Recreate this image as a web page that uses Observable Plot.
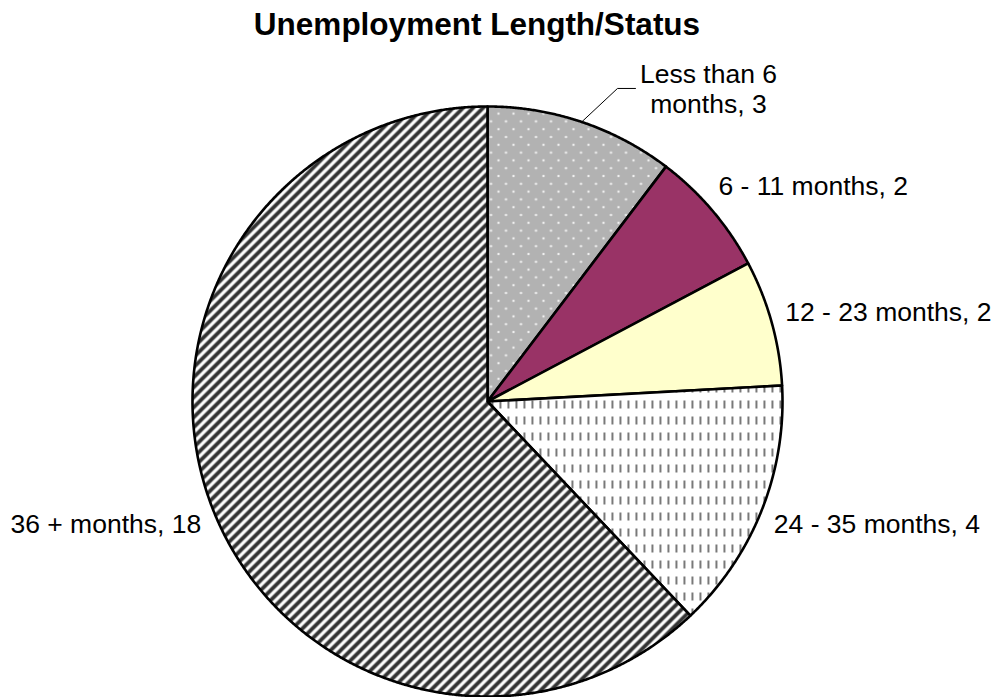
<!DOCTYPE html>
<html><head><meta charset="utf-8">
<script src="https://cdn.jsdelivr.net/npm/d3@7"></script>
<script src="https://cdn.jsdelivr.net/npm/@observablehq/plot@0.6"></script>
<style>body{margin:0;background:#fff;}</style>
</head><body><div id="chart"></div>
<script>
// ---- data ----
const chartTitle = "Unemployment Length/Status";
const categories = ["Less than 6 months", "6 - 11 months", "12 - 23 months", "24 - 35 months", "36 + months"];
const counts = [3, 2, 2, 4, 18];

// ---- styles / layout ----
const fills = ["url(#pDots)", "#993366", "#ffffcc", "url(#pDash)", "url(#pDiag)"];
const W = 997, H = 697, R = 295, CX = 487, CY = 401;
const labelRadius = 1.125;
const callout = {angleDeg: 22.55, radius: 1.149, tailPx: 18, textPx: 91};
const font = "'Liberation Sans', Arial, Helvetica, sans-serif";

// ---- geometry from data ----
const pie = d3.pie().sort(null).value(d => d)(counts);
const step = Math.PI / 720;
const slicePts = pie.map((s, i) => {
  const pts = [{x: 0, y: 0}];
  const n = Math.max(2, Math.ceil((s.endAngle - s.startAngle) / step));
  for (let k = 0; k <= n; k++) {
    const a = s.startAngle + (s.endAngle - s.startAngle) * k / n;
    pts.push({x: Math.sin(a), y: Math.cos(a)});
  }
  pts.push({x: 0, y: 0});
  return pts;
});
const labels = pie.map((s, i) => {
  const a = (s.startAngle + s.endAngle) / 2;
  return {i, a, text: `${categories[i]}, ${counts[i]}`,
          x: labelRadius * Math.sin(a), y: labelRadius * Math.cos(a)};
});
const first = labels[0];
const ca = callout.angleDeg * Math.PI / 180;
const elbow = {x: callout.radius * Math.sin(ca), y: callout.radius * Math.cos(ca)};
const leader = [
  {x: Math.sin(first.a), y: Math.cos(first.a)},
  elbow,
  {x: elbow.x + callout.tailPx / R, y: elbow.y}
];
const calloutText = [{x: elbow.x + callout.textPx / R, y: elbow.y, text: first.text}];
const rest = labels.slice(1);

const chart = Plot.plot({
  width: W, height: H, margin: 0,
  style: {fontFamily: font, background: "#fff", overflow: "visible"},
  x: {domain: [-CX / R, (W - CX) / R], axis: null},
  y: {domain: [-(H - CY) / R, CY / R], axis: null},
  marks: [
    ...slicePts.map((pts, i) => Plot.line(pts, {x: "x", y: "y", fill: fills[i], stroke: "#000", strokeWidth: 2.6, strokeLinejoin: "round"})),
    Plot.line(leader, {x: "x", y: "y", stroke: "#000", strokeWidth: 1}),
    Plot.text(calloutText, {x: "x", y: "y", text: "text", textAnchor: "middle", lineWidth: 6, lineHeight: 1.13, fontSize: 26.5, fill: "#000"}),
    Plot.text(rest.filter(d => d.x >= 0), {x: "x", y: "y", text: "text", textAnchor: "start", dx: -22, fontSize: 26.5, fill: "#000"}),
    Plot.text(rest.filter(d => d.x < 0), {x: "x", y: "y", text: "text", textAnchor: "end", dx: 22, fontSize: 26.5, fill: "#000"}),
    Plot.text([chartTitle], {text: d => d, frameAnchor: "top", lineAnchor: "top", dx: -22, dy: 12, fontSize: 31.5, fontWeight: "bold", fill: "#000"})
  ]
});

const defsHTML = `
<pattern id="pDots" patternUnits="userSpaceOnUse" width="15" height="15.6">
  <rect width="15" height="15.6" fill="#b2b2b2"/>
  <circle cx="3" cy="3.9" r="1.2" fill="#f2f2f2"/>
  <circle cx="10.5" cy="11.7" r="1.2" fill="#f2f2f2"/>
</pattern>
<pattern id="pDash" patternUnits="userSpaceOnUse" width="8" height="16">
  <rect width="8" height="16" fill="#fff"/>
  <rect x="3" y="0" width="1.8" height="8" fill="#6a6a6a"/>
</pattern>
<pattern id="pDiag" patternUnits="userSpaceOnUse" width="10" height="10">
  <rect width="10" height="10" fill="#fff"/>
  <path d="M-2.5,2.5 L2.5,-2.5 M0,10 L10,0 M7.5,12.5 L12.5,7.5" stroke="#333" stroke-width="3.8"/>
</pattern>`;
d3.select(chart).insert("defs", ":first-child").html(defsHTML);
document.getElementById("chart").appendChild(chart);
</script>
</body></html>
